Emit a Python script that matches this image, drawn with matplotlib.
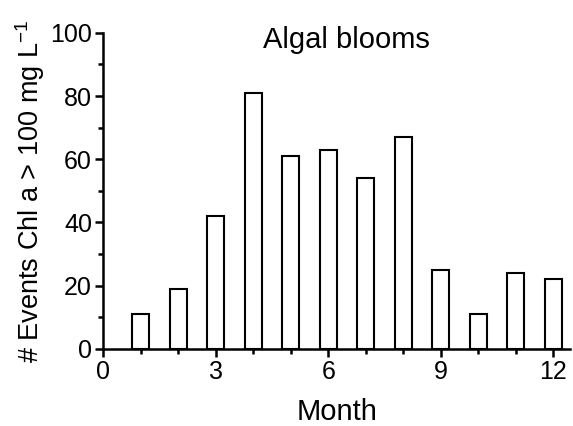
import matplotlib
matplotlib.use("Agg")
import matplotlib.pyplot as plt
from matplotlib.ticker import MultipleLocator

months = [1, 2, 3, 4, 5, 6, 7, 8, 9, 10, 11, 12]
events = [11, 19, 42, 81, 61, 63, 54, 67, 25, 11, 24, 22]

plt.rcParams['font.family'] = ['Liberation Sans', 'DejaVu Sans']

fig = plt.figure(figsize=(5.73, 4.26), dpi=100)
ax = fig.add_axes([0.18, 0.181, 0.815, 0.742])

ax.bar(months, events, width=0.45, color='white', edgecolor='black', linewidth=1.5)

ax.set_xlim(0, 12.45)
ax.set_ylim(0, 100)
ax.xaxis.set_major_locator(MultipleLocator(3))
ax.xaxis.set_minor_locator(MultipleLocator(1))
ax.yaxis.set_major_locator(MultipleLocator(20))
ax.yaxis.set_minor_locator(MultipleLocator(10))

for s in ['top', 'right']:
    ax.spines[s].set_visible(False)
for s in ['left', 'bottom']:
    ax.spines[s].set_linewidth(1.8)

ax.tick_params(which='major', direction='out', length=6, width=1.8, labelsize=18, pad=2)
ax.tick_params(which='minor', direction='out', length=3.5, width=1.8)

ax.set_xlabel('Month', fontsize=21, labelpad=10)
ax.set_ylabel('# Events Chl a > 100 mg L$^{\\mathregular{-1}}$', fontsize=19.5, labelpad=2)
ax.set_title('Algal blooms', fontsize=21, x=0.52, y=0.925)

fig.savefig('out.png', dpi=100)
